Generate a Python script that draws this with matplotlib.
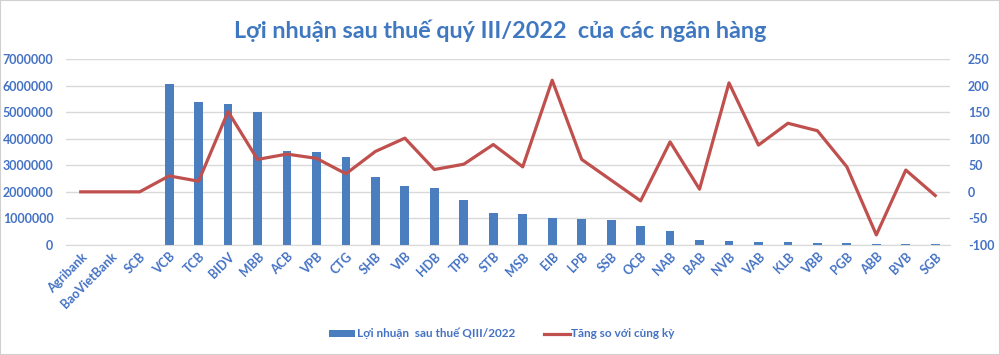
import matplotlib
matplotlib.use("Agg")
import matplotlib.pyplot as plt
from matplotlib.patches import Rectangle

plt.rcParams['font.family'] = ['Lato', 'DejaVu Sans']

banks = ["Agribank", "BaoVietBank", "SCB", "VCB", "TCB", "BIDV", "MBB", "ACB", "VPB", "CTG",
         "SHB", "VIB", "HDB", "TPB", "STB", "MSB", "EIB", "LPB", "SSB", "OCB",
         "NAB", "BAB", "NVB", "VAB", "KLB", "VBB", "PGB", "ABB", "BVB", "SGB"]
profit = [0, 0, 0, 6050000, 5370000, 5310000, 4990000, 3550000, 3500000, 3300000,
          2570000, 2220000, 2130000, 1690000, 1220000, 1170000, 1020000, 980000, 930000, 730000,
          530000, 200000, 160000, 120000, 120000, 90000, 90000, 50000, 40000, 40000]
growth = [0, 0, 0, 30, 20, 151, 61, 71, 63, 34,
          76, 101, 42, 52, 89, 47, 210, 61, 22, -17,
          94, 5, 205, 88, 129, 115, 47, -81, 41, -7]
left_ticks = [0, 1000000, 2000000, 3000000, 4000000, 5000000, 6000000, 7000000]
right_ticks = [-100, -50, 0, 50, 100, 150, 200, 250]
title = "Lợi nhuận sau thuế quý III/2022  của các ngân hàng"
bar_label = "Lợi nhuận  sau thuế QIII/2022"
line_label = "Tăng so với cùng kỳ"

bar_color = "#4A7EBF"
red = "#C0504D"
tick_color = "#4472C4"

fig = plt.figure(figsize=(10, 3.55), dpi=100)
fig.patches.append(Rectangle((0, 0), 1, 1, transform=fig.transFigure, fill=False,
                             edgecolor="#D0D0D0", linewidth=1.5))

ax = fig.add_axes([0.066, 0.3099, 0.884, 0.524])
x = list(range(len(banks)))
ax.bar(x, profit, width=0.3, color=bar_color, zorder=2, label=bar_label)
ax.set_ylim(0, 7000000)
ax.set_yticks(left_ticks)
ax.set_yticklabels([str(v) for v in left_ticks])
ax.set_xlim(-0.5, len(banks) - 0.5)
ax.set_xticks(x)
ax.set_xticklabels(banks, rotation=45, ha="right", rotation_mode="anchor")
ax.grid(axis="y", color="#D9D9D9", linewidth=1, zorder=0)
for s in ["top", "right", "left"]:
    ax.spines[s].set_visible(False)
ax.spines["bottom"].set_color("#D9D9D9")
ax.tick_params(axis="both", length=0, labelcolor=tick_color, labelsize=9)
ax.tick_params(axis="y", pad=9)
ax.tick_params(axis="x", pad=4)
for lbl in ax.get_xticklabels() + ax.get_yticklabels():
    lbl.set_fontweight("bold")

ax2 = ax.twinx()
ax2.plot(x, growth, color=red, linewidth=2.3, zorder=3, label=line_label)
ax2.set_ylim(-100, 250)
ax2.set_yticks(right_ticks)
ax2.set_yticklabels([str(v) for v in right_ticks])
for s in ["top", "right", "left", "bottom"]:
    ax2.spines[s].set_visible(False)
ax2.tick_params(axis="y", length=0, labelcolor=tick_color, labelsize=9, pad=13)
for lbl in ax2.get_yticklabels():
    lbl.set_fontweight("bold")

fig.text(0.5, 0.912, title, ha="center", va="center", fontsize=16.8,
         fontweight="bold", color="#3F78C0")

h1, l1 = ax.get_legend_handles_labels()
h2, l2 = ax2.get_legend_handles_labels()
leg = fig.legend(h1 + h2, l1 + l2, loc="center", bbox_to_anchor=(0.502, 0.06), ncol=2,
                 frameon=False, fontsize=8.5, handlelength=2.2, handleheight=0.5,
                 columnspacing=2.4, handletextpad=0.15)
for t in leg.get_texts():
    t.set_color(tick_color)
    t.set_fontweight("bold")

fig.savefig("out.png", dpi=100)
